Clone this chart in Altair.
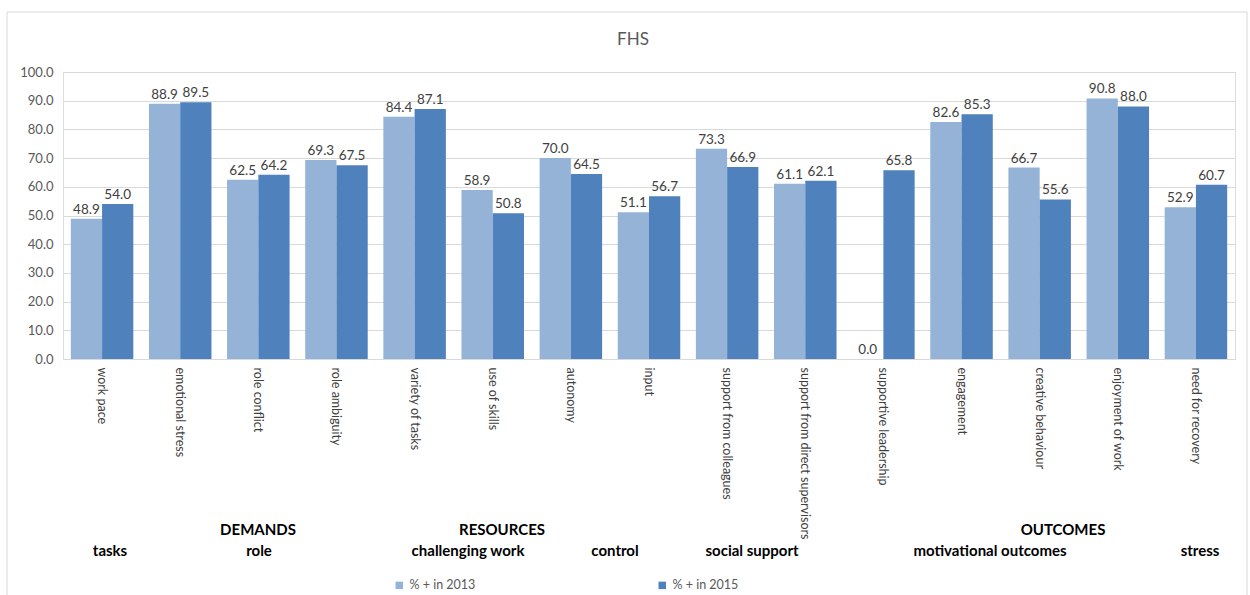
import altair as alt
import pandas as pd

categories = ["work pace", "emotional stress", "role conflict", "role ambiguity",
              "variety of tasks", "use of skills", "autonomy", "input",
              "support from colleagues", "support from direct supervisors",
              "supportive leadership", "engagement", "creative behaviour",
              "enjoyment of work", "need for recovery"]
v2013 = [48.9, 88.9, 62.5, 69.3, 84.4, 58.9, 70.0, 51.1, 73.3, 61.1, 0.0, 82.6, 66.7, 90.8, 52.9]
v2015 = [54.0, 89.5, 64.2, 67.5, 87.1, 50.8, 64.5, 56.7, 66.9, 62.1, 65.8, 85.3, 55.6, 88.0, 60.7]
series = ["% + in 2013", "% + in 2015"]
colors = ["#95B3D7", "#4F81BD"]
title_text = "FHS"

groups = ["DEMANDS", "RESOURCES", "OUTCOMES"]
subgroups = ["tasks", "role", "challenging work", "control", "social support",
             "motivational outcomes", "stress"]

# layout (pixel positions relative to the plot area)
group_px = [195, 439, 1000]
group_py = [458, 458, 458]
sub_px = [47, 196, 405, 552, 689, 927, 1137]
sub_py = [479] * 7

rows = []
for c, a, b in zip(categories, v2013, v2015):
    rows.append({"cat": c, "series": series[0], "value": a})
    rows.append({"cat": c, "series": series[1], "value": b})
df = pd.DataFrame(rows)

ann_rows = []
for t, px, py in zip(groups, group_px, group_py):
    ann_rows.append({"t": t, "px": px, "py": py, "kind": "group"})
for t, px, py in zip(subgroups, sub_px, sub_py):
    ann_rows.append({"t": t, "px": px, "py": py, "kind": "sub"})
ann = pd.DataFrame(ann_rows)

FONT = "Lato"
W, H = 1172, 287

x = alt.X("cat:N", sort=categories, title=None,
          scale=alt.Scale(paddingInner=0.2, paddingOuter=0.1),
          axis=alt.Axis(labelAngle=90, labelFontSize=12.5, labelColor="#404040",
                        labelPadding=8, labelLimit=400, ticks=False,
                        domainColor="#d9d9d9", labelFont=FONT))
y = alt.Y("value:Q", title=None, scale=alt.Scale(domain=[0, 100]),
          axis=alt.Axis(values=list(range(0, 101, 10)), format=".1f",
                        labelFontSize=13, labelColor="#595959", labelFont=FONT,
                        labelPadding=10, domain=False, ticks=False,
                        gridColor="#d9d9d9"))
xoff = alt.XOffset("series:N", sort=series, scale=alt.Scale(paddingInner=0))
color = alt.Color("series:N", sort=series,
                  scale=alt.Scale(domain=series, range=colors),
                  legend=alt.Legend(title=None, orient="none", legendX=330, legendY=507,
                                    direction="horizontal", symbolType="square",
                                    symbolSize=56, symbolStrokeWidth=0,
                                    labelFontSize=12.5, labelColor="#595959",
                                    labelFont=FONT, columnPadding=180))

bars = alt.Chart(df).mark_bar().encode(x=x, y=y, xOffset=xoff, color=color)
labels = alt.Chart(df).mark_text(dy=-9, fontSize=13.5, color="#404040", font=FONT).encode(
    x=x, y=y, xOffset=xoff, text=alt.Text("value:Q", format=".1f"))
main = alt.layer(bars, labels)

grp = alt.Chart(ann).transform_filter(alt.datum.kind == "group").mark_text(
    fontSize=15, fontWeight="bold", font=FONT, color="#000000", baseline="middle").encode(
    x=alt.X("px:Q", scale=None, axis=None),
    y=alt.Y("py:Q", scale=None, axis=None),
    text="t:N")
sub = alt.Chart(ann).transform_filter(alt.datum.kind == "sub").mark_text(
    fontSize=15, fontWeight="bold", font=FONT, color="#000000", baseline="middle").encode(
    x=alt.X("px:Q", scale=None, axis=None),
    y=alt.Y("py:Q", scale=None, axis=None),
    text="t:N")
ttl = alt.Chart(pd.DataFrame({"t": [title_text]})).mark_text(
    fontSize=17, font=FONT, color="#595959", baseline="middle").encode(
    x=alt.value(570), y=alt.value(-32), text="t:N")
border = alt.Chart(pd.DataFrame({"a": [0]})).mark_rect(
    fill=None, stroke="#d9d9d9", strokeWidth=1).encode(
    x=alt.value(-56), x2=alt.value(1184), y=alt.value(-60), y2=alt.value(540))

chart = alt.layer(border, main, grp, sub, ttl).resolve_scale(
    x="independent", y="independent").properties(
    width=W, height=H,
    autosize=alt.AutoSizeParams(type="none"),
    padding={"left": 63, "top": 72, "right": 15, "bottom": 236},
).configure_view(stroke=None).configure(background="white")

chart.save("out.html", embed_options={"renderer": "svg", "actions": False})
